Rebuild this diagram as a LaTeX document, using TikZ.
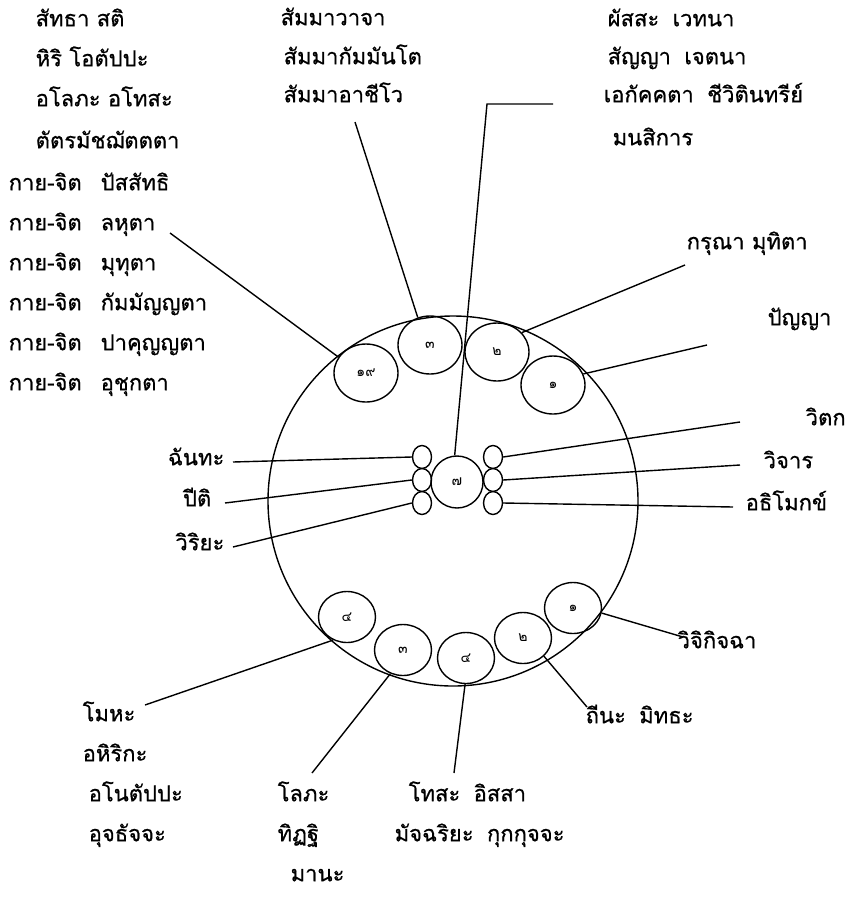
\documentclass[tikz,border=0pt]{standalone}
\usepackage{fontspec}
\newfontfamily\thaifont[Script=Thai,FakeBold=0.7]{Loma}
\newfontfamily\thainum[Script=Thai]{Loma}
\usetikzlibrary{shapes.geometric}

\begin{document}
\begin{tikzpicture}[x=1pt,y=-1pt,line width=1.4pt]
\tikzset{lbl/.style={inner sep=0pt,anchor=west,text height=1.5ex,text depth=0pt,font=\thaifont\fontsize{22}{26}\selectfont}}
\tikzset{cell/.style={ellipse,draw,inner sep=0pt,minimum width=64pt,minimum height=58pt,font=\thainum\fontsize{14}{16}\selectfont}}
\tikzset{lowcell/.style={cell,minimum width=57pt,minimum height=51pt}}
\tikzset{bud/.style={ellipse,draw,inner sep=0pt,minimum width=19pt,minimum height=23pt}}
\useasboundingbox (0,0) rectangle (849,914);

% the mind
\node[circle,draw,minimum size=370pt,inner sep=0pt] (mind) at (453,501) {};

% upper cells
\node[cell] (sobhana) at (366,373) {๑๙};
\node[cell] (virati) at (430,345) {๓};
\node[cell] (appamanna) at (497,352) {๒};
\node[cell] (panna) at (553,385) {๑};

% core
\node[circle,draw,minimum size=52pt,inner sep=0pt,font=\thainum\fontsize{14}{16}\selectfont] (core) at (457,482) {๗};
\node[bud] (chanda) at (422,457) {};
\node[bud] (piti) at (422,480) {};
\node[bud] (viriya) at (422,503) {};
\node[bud] (vitakka) at (493,457) {};
\node[bud] (vicara) at (493,480) {};
\node[bud] (adhimokkha) at (493,503) {};

% lower cells
\node[lowcell] (moha) at (347,617) {๔};
\node[lowcell] (lobha) at (403,650) {๓};
\node[lowcell] (dosa) at (466,658) {๔};
\node[lowcell] (thina) at (523,638) {๒};
\node[lowcell] (vicikiccha) at (573,608) {๑};

% labels
\node[lbl] (t1) at (35,23) {สัทธา สติ};
\node[lbl] (t2) at (35,63) {หิริ โอตัปปะ};
\node[lbl] (t3) at (35,103) {อโลภะ อโทสะ};
\node[lbl] (t4) at (35,145) {ตัตรมัชฌัตตตา};
\node[lbl] (k1) at (8,187) {กาย-จิต};
\node[lbl] (k2) at (8,227) {กาย-จิต};
\node[lbl] (k3) at (8,267) {กาย-จิต};
\node[lbl] (k4) at (8,307) {กาย-จิต};
\node[lbl] (k5) at (8,347) {กาย-จิต};
\node[lbl] (k6) at (8,387) {กาย-จิต};
\node[lbl] (w1) at (100,187) {ปัสสัทธิ};
\node[lbl] (w2) at (100,227) {ลหุตา};
\node[lbl] (w3) at (100,267) {มุทุตา};
\node[lbl] (w4) at (100,307) {กัมมัญญตา};
\node[lbl] (w5) at (100,347) {ปาคุญญตา};
\node[lbl] (w6) at (100,387) {อุชุกตา};

\node[lbl] (s1) at (280,22) {สัมมาวาจา};
\node[lbl] (s2) at (283,61) {สัมมากัมมันโต};
\node[lbl] (s3) at (283,99) {สัมมาอาชีโว};

\node[lbl] (u1) at (607,23) {ผัสสะ\hspace{6pt} เวทนา};
\node[lbl] (u2) at (607,61) {สัญญา\hspace{6pt} เจตนา};
\node[lbl] (u3) at (603,99) {เอกัคคตา\hspace{6pt} ชีวิตินทรีย์};
\node[lbl] (u4) at (612,142) {มนสิการ};

\node[lbl] (karuna) at (686,246) {กรุณา มุทิตา};
\node[lbl] (panya) at (767,322) {ปัญญา};

\node[lbl,anchor=east] (l1) at (225,462) {ฉันทะ};
\node[lbl,anchor=east] (l2) at (212,503) {ปีติ};
\node[lbl,anchor=east] (l3) at (225,547) {วิริยะ};
\node[lbl] (r1) at (805,422) {วิตก};
\node[lbl] (r2) at (763,465) {วิจาร};
\node[lbl] (r3) at (745,507) {อธิโมกข์};

\node[lbl] (b1) at (677,645) {วิจิกิจฉา};
\node[lbl] (b2) at (585,720) {ถีนะ\hspace{6pt} มิทธะ};
\node[lbl] (m1) at (82,718) {โมหะ};
\node[lbl] (m2) at (82,758) {อหิริกะ};
\node[lbl] (m3) at (88,798) {อโนตัปปะ};
\node[lbl] (m4) at (88,838) {อุจธัจจะ};
\node[lbl] (g1) at (277,798) {โลภะ};
\node[lbl] (g2) at (277,838) {ทิฏฐิ};
\node[lbl] (g3) at (290,878) {มานะ};
\node[lbl] (d1) at (408,798) {โทสะ\hspace{6pt} อิสสา};
\node[lbl] (d2) at (394,838) {มัจฉริยะ\hspace{6pt} กุกกุจจะ};

% free ends
\coordinate (kEnd) at (170,233);
\coordinate (sEnd) at (355,122);
\coordinate (cBend) at (487,104);
\coordinate (cEnd) at (553,104);
\coordinate (aEnd) at (685,265);
\coordinate (pEnd) at (707,345);
\coordinate (r1End) at (740,422);
\coordinate (r2End) at (740,465);
\coordinate (r3End) at (733,507);
\coordinate (l1End) at (233,462);
\coordinate (l2End) at (225,503);
\coordinate (l3End) at (233,547);
\coordinate (mEnd) at (145,705);
\coordinate (gEnd) at (312,773);
\coordinate (dEnd) at (454,773);
\coordinate (tEnd) at (587,707);
\coordinate (vEnd) at (683,637);

% connectors
\draw (sobhana.150) -- (kEnd);
\draw (virati.114) -- (sEnd);
\draw (core.95) -- (cBend) -- (cEnd);
\draw (appamanna.38) -- (aEnd);
\draw (panna.20) -- (pEnd);
\draw (chanda.west) -- (l1End);
\draw (piti.west) -- (l2End);
\draw (viriya.west) -- (l3End);
\draw (vitakka.east) -- (r1End);
\draw (vicara.east) -- (r2End);
\draw (adhimokkha.east) -- (r3End);
\draw (moha.239) -- (mEnd);
\draw (lobha.242) -- (gEnd);
\draw (dosa.268) -- (dEnd);
\draw (thina.319) -- (tEnd);
\draw (vicikiccha.350) -- (vEnd);
\end{tikzpicture}
\end{document}
